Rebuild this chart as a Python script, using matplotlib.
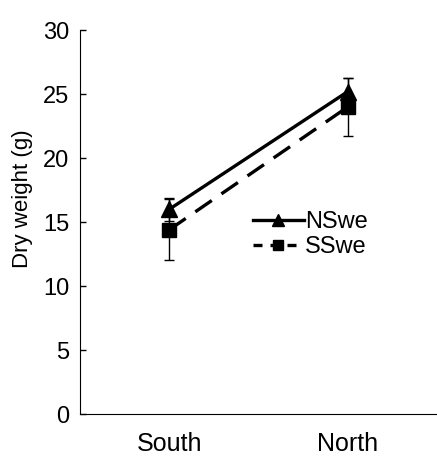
import matplotlib
matplotlib.use('Agg')
from matplotlib import pyplot as plt

plt.rcParams['font.family'] = ['Liberation Sans', 'DejaVu Sans']

# data
sites = ['South', 'North']
nswe_mean = [16.0, 25.2]
nswe_err = [0.9, 1.1]
sswe_mean = [14.4, 24.0]
sswe_err = [2.4, 2.3]
yticks = [0, 5, 10, 15, 20, 25, 30]

fig = plt.figure(figsize=(4.37, 4.57), dpi=100)
ax = fig.add_axes([0.183, 0.094, 0.817, 0.84])
x = list(range(len(sites)))

ax.errorbar(x, nswe_mean, yerr=nswe_err, color='black', lw=2.4, ls='-',
            marker='^', ms=11, elinewidth=1, capsize=3.3, capthick=1, label='NSwe')
ax.errorbar(x, sswe_mean, yerr=sswe_err, color='black', lw=2.4, ls=(0, (6, 3.5)),
            marker='s', ms=9.5, elinewidth=1, capsize=3.3, capthick=1, label='SSwe')

ax.set_xlim(-0.5, 1.5)
ax.set_ylim(0, 30)
ax.set_yticks(yticks)
ax.set_xticks(x)
ax.set_xticklabels(sites, fontsize=18)
ax.tick_params(axis='y', direction='in', length=4.5, width=1, labelsize=17, pad=7.5)
ax.tick_params(axis='x', length=0, pad=13)
ax.spines['top'].set_visible(False)
ax.spines['right'].set_visible(False)
ax.set_ylabel('Dry weight (g)', fontsize=16)
ax.yaxis.set_label_coords(-0.132, 0.56)

handles, labels = ax.get_legend_handles_labels()
handles = [h[0] for h in handles]
leg = ax.legend(handles, labels, loc='center left', bbox_to_anchor=(0.458, 0.468),
                frameon=False, fontsize=17, handlelength=2.15, handletextpad=0.05,
                labelspacing=0.13, borderaxespad=0, markerscale=0.75)
# shorter dashes for the legend sample
leg.get_lines()[1].set_linestyle((0, (2.7, 2.4)))

plt.savefig('out.png', dpi=100)
